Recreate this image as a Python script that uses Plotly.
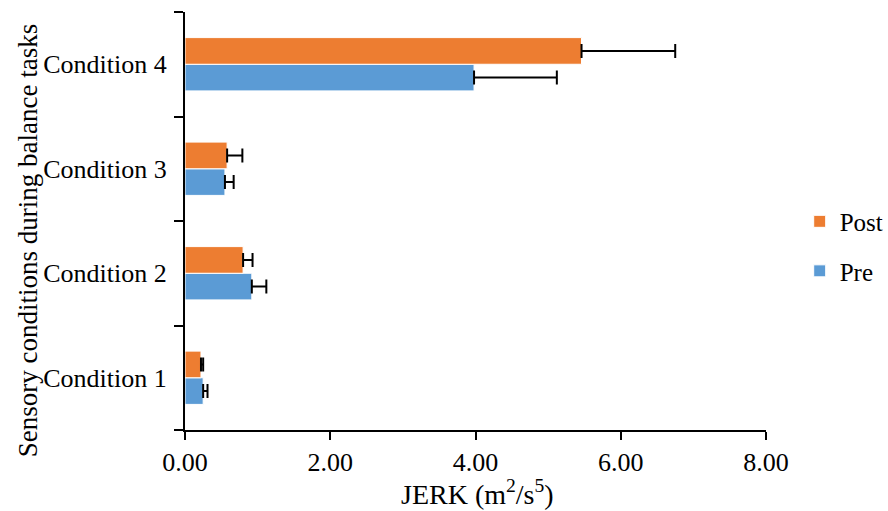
import plotly.graph_objects as go

categories = ["Condition 1", "Condition 2", "Condition 3", "Condition 4"]
pre_values = [0.25, 0.92, 0.55, 3.98]
pre_errors = [0.06, 0.20, 0.12, 1.14]
post_values = [0.22, 0.80, 0.58, 5.46]
post_errors = [0.03, 0.13, 0.21, 1.29]
x_ticks = [0, 2, 4, 6, 8]
x_tick_labels = ["0.00", "2.00", "4.00", "6.00", "8.00"]
x_title = "JERK (m<sup>2</sup>/s<sup>5</sup>)"
y_title = "Sensory conditions during balance tasks"

FONT = "Liberation Serif, Times New Roman, serif"

fig = go.Figure()
fig.add_trace(go.Bar(
    y=categories, x=pre_values, name="Pre", orientation="h",
    legendgroup="pre", legendrank=2,
    marker=dict(color="#5B9BD5", line=dict(color="#FFFFFF", width=1)),
    error_x=dict(type="data", array=pre_errors, arrayminus=[0]*len(pre_errors),
                 symmetric=False, color="black", thickness=2, width=7),
))
fig.add_trace(go.Bar(
    y=categories, x=post_values, name="Post", orientation="h",
    legendgroup="post", legendrank=1,
    marker=dict(color="#ED7D31", line=dict(color="#FFFFFF", width=1)),
    error_x=dict(type="data", array=post_errors, arrayminus=[0]*len(post_errors),
                 symmetric=False, color="black", thickness=2, width=7),
))

fig.update_layout(
    width=888, height=511,
    margin=dict(l=185, r=122, t=12, b=81, autoexpand=False),
    paper_bgcolor="white", plot_bgcolor="white",
    barmode="group", bargap=0.49, bargroupgap=0,
    font=dict(family=FONT, size=24, color="black"),
    showlegend=True,
    legend=dict(x=1.058, y=0.44, xanchor="left", yanchor="middle",
                traceorder="grouped", font=dict(size=25),
                itemwidth=30, tracegroupgap=14, bgcolor="rgba(0,0,0,0)"),
    xaxis=dict(range=[0, 8], tickvals=x_ticks, ticktext=x_tick_labels,
               tickfont=dict(size=26),
               showgrid=False, zeroline=False, showline=True, linecolor="black",
               linewidth=2, ticks="outside", ticklen=8, tickwidth=2, tickcolor="black",
               automargin=False),
    yaxis=dict(type="category", categoryorder="array", categoryarray=categories,
               range=[-0.5, 3.5], showgrid=False, zeroline=False, showline=True,
               tickfont=dict(size=26), ticklabelstandoff=11,
               linecolor="black", linewidth=2, ticks="outside", ticklen=9,
               tickwidth=2, tickcolor="black", tickson="boundaries",
               automargin=False),
    annotations=[
        dict(text=x_title, xref="paper", yref="paper", x=0.5026, y=-0.150,
             xanchor="center", yanchor="middle", showarrow=False,
             font=dict(size=28)),
        dict(text=y_title, xref="paper", yref="paper", x=-0.270, y=0.452,
             xanchor="center", yanchor="middle", showarrow=False, textangle=-90,
             font=dict(size=27)),
    ],
)

fig.write_html("out.html", config={"displayModeBar": False},
               post_script="document.body.style.margin='0';")
